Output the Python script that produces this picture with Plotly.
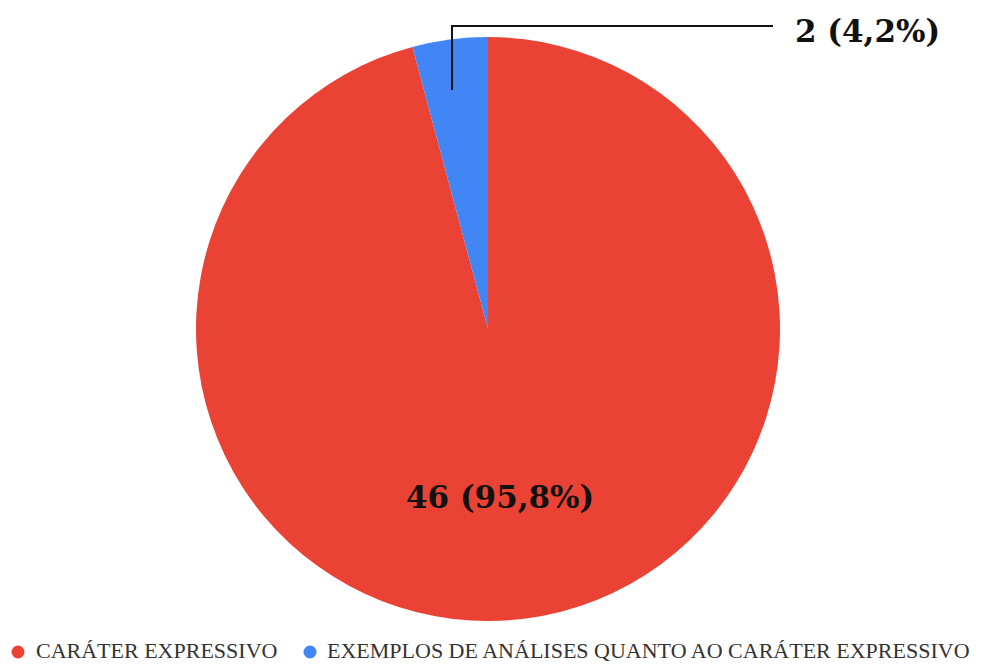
import plotly.graph_objects as go

# Category counts
labels = ["CARÁTER EXPRESSIVO", "EXEMPLOS DE ANÁLISES QUANTO AO CARÁTER EXPRESSIVO"]
values = [46, 2]
colors = ["#EA4335", "#4285F4"]

W, H = 983, 664
total = sum(values)


def fmt(v):
    pct = 100.0 * v / total
    return f"<b>{v} ({pct:.1f}%)</b>".replace(".", ",")


def px(x, y):
    """Pixel position -> paper coordinates (no margins)."""
    return x / W, 1 - y / H


fig = go.Figure()
fig.add_trace(go.Pie(
    labels=labels,
    values=values,
    marker=dict(colors=colors, line=dict(width=0)),
    sort=False,
    direction="clockwise",
    rotation=0,
    textinfo="none",
    hoverinfo="label+value+percent",
    showlegend=False,
    domain=dict(x=[196 / W, 780 / W], y=[1 - 621 / H, 1 - 37 / H]),
))

# Slice labels
x0, y0 = px(500, 497)
fig.add_annotation(x=x0, y=y0, xref="paper", yref="paper", text=fmt(values[0]),
                   showarrow=False, xanchor="center", yanchor="middle",
                   font=dict(family="DejaVu Serif", size=31, color="#111111"))
x1, y1 = px(793, 31)
fig.add_annotation(x=x1, y=y1, xref="paper", yref="paper", text=fmt(values[1]),
                   showarrow=False, xanchor="left", yanchor="middle",
                   font=dict(family="DejaVu Serif", size=31, color="#111111"))

# Leader line for the small slice
ax, ay = px(452, 90)
bx, by = px(452, 26)
cx, cy = px(773, 26)
fig.add_shape(type="path", xref="paper", yref="paper",
              path=f"M {ax} {ay} L {bx} {by} L {cx} {cy}",
              line=dict(color="#111111", width=2))

# Legend row: round swatch + caption per category
legend_pos = [(18, 37), (310, 328)]   # swatch centre x, caption left x
ly = 652
r = 6.5
for (sx, tx), lab, col in zip(legend_pos, labels, colors):
    xa, ya = px(sx - r, ly - r)
    xb, yb = px(sx + r, ly + r)
    fig.add_shape(type="circle", xref="paper", yref="paper",
                  x0=xa, x1=xb, y0=yb, y1=ya,
                  fillcolor=col, line=dict(width=0))
    tx_, _ = px(tx, ly)
    fig.add_annotation(x=tx_, y=0, xref="paper", yref="paper", text=lab,
                       showarrow=False, xanchor="left", yanchor="bottom",
                       xshift=-2, borderpad=0,
                       font=dict(family="Liberation Serif", size=22, color="#333333"))

fig.update_layout(
    width=W, height=H,
    margin=dict(l=0, r=0, t=0, b=0),
    paper_bgcolor="white",
    plot_bgcolor="white",
    showlegend=False,
)

fig.write_html("out.html")
